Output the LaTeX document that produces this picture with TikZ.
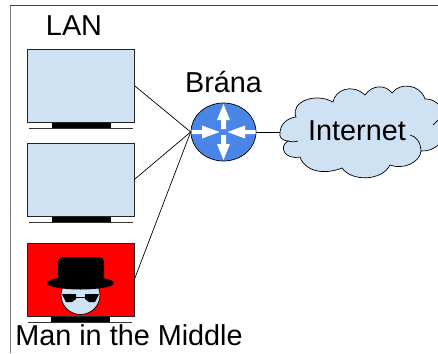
\documentclass[tikz,border=0pt]{standalone}
\usepackage{fontspec}
\setmainfont{Liberation Sans}
\usetikzlibrary{shapes.geometric}
\definecolor{screenblue}{RGB}{207,226,243}
\definecolor{routerblue}{RGB}{74,134,232}
\definecolor{framegray}{RGB}{120,120,120}
\begin{document}
\begin{tikzpicture}[%
    x=1pt, y=-1pt,
    line width=0.7pt,
    screenbox/.style={
        draw=black!85,
        fill=screenblue,
        minimum width=107pt,
        minimum height=73pt,
        inner sep=0pt
    },
    standbar/.style={fill=black},
    standline/.style={draw=black!80, line width=0.9pt},
    routerarrow/.style={fill=white, draw=none},
    labeltext/.style={inner sep=0pt, anchor=base, font=\fontsize{28.8}{28.8}\selectfont}
]
    % Fixes the size of the page.
    \useasboundingbox (0,0) rectangle (438,353);
    \clip (0,0) rectangle (438,353);

    % Frame, open at the bottom.
    \draw[framegray, line width=1.6pt] (10.5,353) -- (10.5,5);
    \draw[black!75, line width=0.8pt] (10,5) -- (438,5);

    % Screens of the LAN.
    \node[screenbox] (lanone) at (80.5,85.5) {};
    \node[screenbox] (lantwo) at (80.5,179.5) {};
    \node[screenbox, fill=red] (lanthree) at (80.5,279.5) {};

    % Stands under the screens.
    \fill[standbar] (51.5,122.5) rectangle (110.5,127.5);
    \draw[standline] (29,128) -- (133,128);
    \fill[standbar] (51.5,216.5) rectangle (110.5,221.5);
    \draw[standline] (29,222) -- (133,222);
    \fill[standbar] (51,316.5) rectangle (110,321.5);
    \draw[standline] (28,322) -- (132,322);

    % The man: face, glasses, hat.
    \draw[fill=screenblue] (80.5,295) circle (19.5);
    \fill[black] (62,294) -- (76,294) -- (76,299) -- (72,302) -- (66,302) -- cycle;
    \fill[black] (99,294) -- (85,294) -- (85,299) -- (89,302) -- (95,302) -- cycle;
    \draw[line width=1pt] (76,297.5) -- (85,297.5);
    \fill[black] (80.5,283) ellipse (33.5 and 6.5);
    \fill[black, rounded corners=5pt] (58,284) rectangle (104,257);

    % Router.
    \node[draw=black, fill=routerblue, ellipse, minimum width=65pt, minimum height=58pt,
          inner sep=0pt] (brana) at (223.5,132) {};
    \foreach \ang in {0,180} {
        \begin{scope}[shift={(brana.center)}, rotate=\ang]
            \fill[routerarrow] (-2.5,-3) -- (-2.5,-12) -- (-6.5,-12) -- (0,-28)
                -- (6.5,-12) -- (2.5,-12) -- (2.5,-3) -- cycle;
        \end{scope}
    }
    \foreach \ang in {90,270} {
        \begin{scope}[shift={(brana.center)}, rotate=\ang]
            \fill[routerarrow] (-2,-32) -- (-2,-21.5) -- (-6.5,-21.5) -- (0,-4)
                -- (6.5,-21.5) -- (2,-21.5) -- (2,-32) -- cycle;
        \end{scope}
    }

    % Cloud.
    \draw[fill=screenblue]
        (280,132) .. controls (281,123) and (288,118) .. (296,117)
        .. controls (290,102) and (315,92) .. (333,102)
        .. controls (335,90) and (352,83) .. (365,95)
        .. controls (372,85) and (385,84) .. (392,93)
        .. controls (400,82) and (420,84) .. (425,99)
        .. controls (436,98) and (447,110) .. (447,125)
        .. controls (447,140) and (435,152) .. (421,151)
        .. controls (420,163) and (402,170) .. (390,165)
        .. controls (382,181) and (352,182) .. (342,168)
        .. controls (325,175) and (305,172) .. (300,157)
        .. controls (285,160) and (278,147) .. (288,141)
        .. controls (281,140) and (279,137) .. cycle;
    \draw (288,141) .. controls (291,142) and (295,142) .. (298,141);
    \draw (410,135) .. controls (416,136) and (421,143) .. (421,151);
    \draw (433,125) -- (438,120);

    % Texts.
    \node[labeltext] (lanlabel) at (74,35) {LAN};
    \node[labeltext] (branalabel) at (223.5,92) {Brána};
    \node[labeltext] (internet) at (357,140) {Internet};
    \node[labeltext, anchor=base west] (manlabel) at (15,345) {Man in the Middle};

    % Connectors.
    \coordinate (cloudleft) at (280,132);
    \draw (lanone.east) -- (brana.west);
    \draw (lantwo.east) -- (brana.west);
    \draw (lanthree.east) -- (brana.west);
    \draw (brana.east) -- (cloudleft);
\end{tikzpicture}
\end{document}
